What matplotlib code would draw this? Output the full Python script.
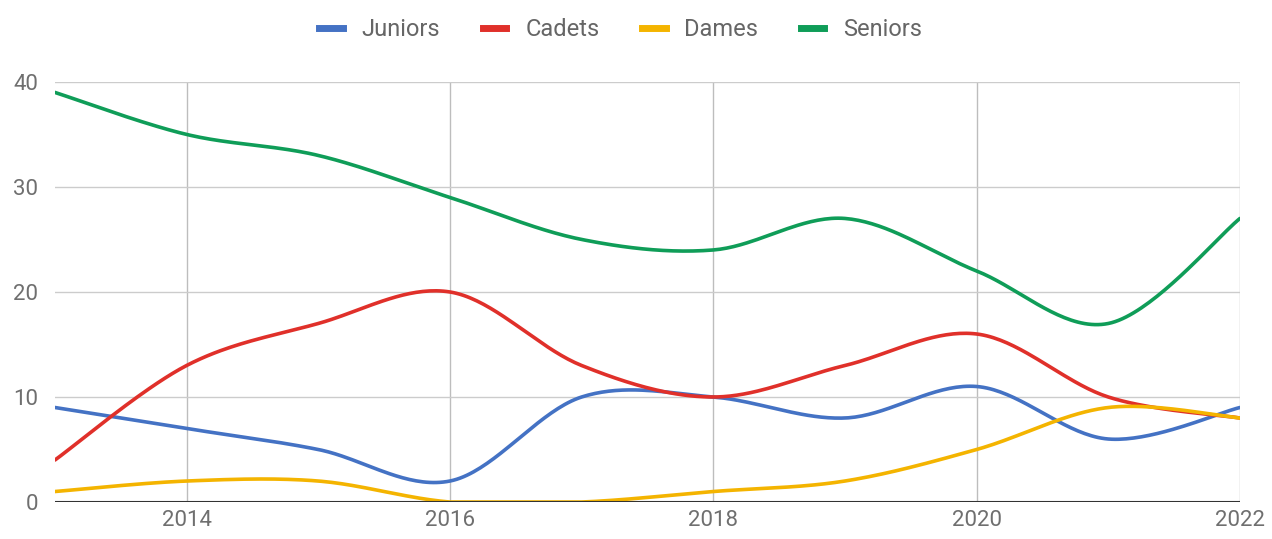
import numpy as np
import matplotlib.pyplot as plt
from matplotlib.lines import Line2D

years = [2013, 2014, 2015, 2016, 2017, 2018, 2019, 2020, 2021, 2022]
juniors = [9, 7, 5, 2, 10, 10, 8, 11, 6, 9]
cadets = [4, 13, 17, 20, 13, 10, 13, 16, 10, 8]
dames = [1, 2, 2, 0, 0, 1, 2, 5, 9, 8]
seniors = [39, 35, 33, 29, 25, 24, 27, 22, 17, 27]

series = [
    ("Juniors", juniors, "#4472c4"),
    ("Cadets", cadets, "#e0302a"),
    ("Dames", dames, "#f4b400"),
    ("Seniors", seniors, "#0f9d58"),
]


def smooth_curve(x, y, steps=40):
    # cubic bezier through the points, tangents from neighbours (Catmull-Rom like)
    x = np.asarray(x, float)
    y = np.asarray(y, float)
    n = len(x)
    xs, ys = [], []
    for i in range(n - 1):
        p0 = np.array([x[max(i - 1, 0)], y[max(i - 1, 0)]])
        p1 = np.array([x[i], y[i]])
        p2 = np.array([x[i + 1], y[i + 1]])
        p3 = np.array([x[min(i + 2, n - 1)], y[min(i + 2, n - 1)]])
        c1 = p1 + (p2 - p0) / 6.0
        c2 = p2 - (p3 - p1) / 6.0
        t = np.linspace(0, 1, steps)[:, None]
        pts = ((1 - t) ** 3) * p1 + 3 * ((1 - t) ** 2) * t * c1 + 3 * (1 - t) * t ** 2 * c2 + t ** 3 * p2
        xs.extend(pts[:, 0])
        ys.extend(pts[:, 1])
    return np.array(xs), np.array(ys)


plt.rcParams["font.family"] = ["Roboto", "DejaVu Sans"]

fig = plt.figure(figsize=(12.72, 5.39), dpi=100)
ax = fig.add_axes([0.0432, 0.0686, 0.9316, 0.7794])

for name, vals, color in series:
    sx, sy = smooth_curve(years, vals)
    sy = np.clip(sy, 0, None)
    ax.plot(sx, sy, color=color, lw=2.6, solid_capstyle="round", zorder=3)

ax.set_xlim(2013, 2022)
ax.set_ylim(0, 40)
ax.set_xticks([2014, 2016, 2018, 2020, 2022])
ax.set_yticks([0, 10, 20, 30, 40])
ax.grid(axis="y", color="#cccccc", lw=1)
ax.grid(axis="x", color="#bdbdbd", lw=1)
ax.set_axisbelow(True)
ax.axhline(0, color="#333333", lw=1.5, zorder=4)
for s in ax.spines.values():
    s.set_visible(False)
ax.tick_params(length=0, labelsize=16, labelcolor="#6f6f6f", pad=6)
ax.tick_params(axis="y", pad=12)

handles = [Line2D([0], [0], color=c, lw=5) for _, _, c in series]
fig.legend(handles, [n for n, _, _ in series], loc="center", bbox_to_anchor=(0.488, 0.945),
           ncol=4, frameon=False, fontsize=17, handlelength=1.0, columnspacing=1.8,
           handletextpad=0.8, labelcolor="#666666")

fig.savefig("out.png", dpi=100)
